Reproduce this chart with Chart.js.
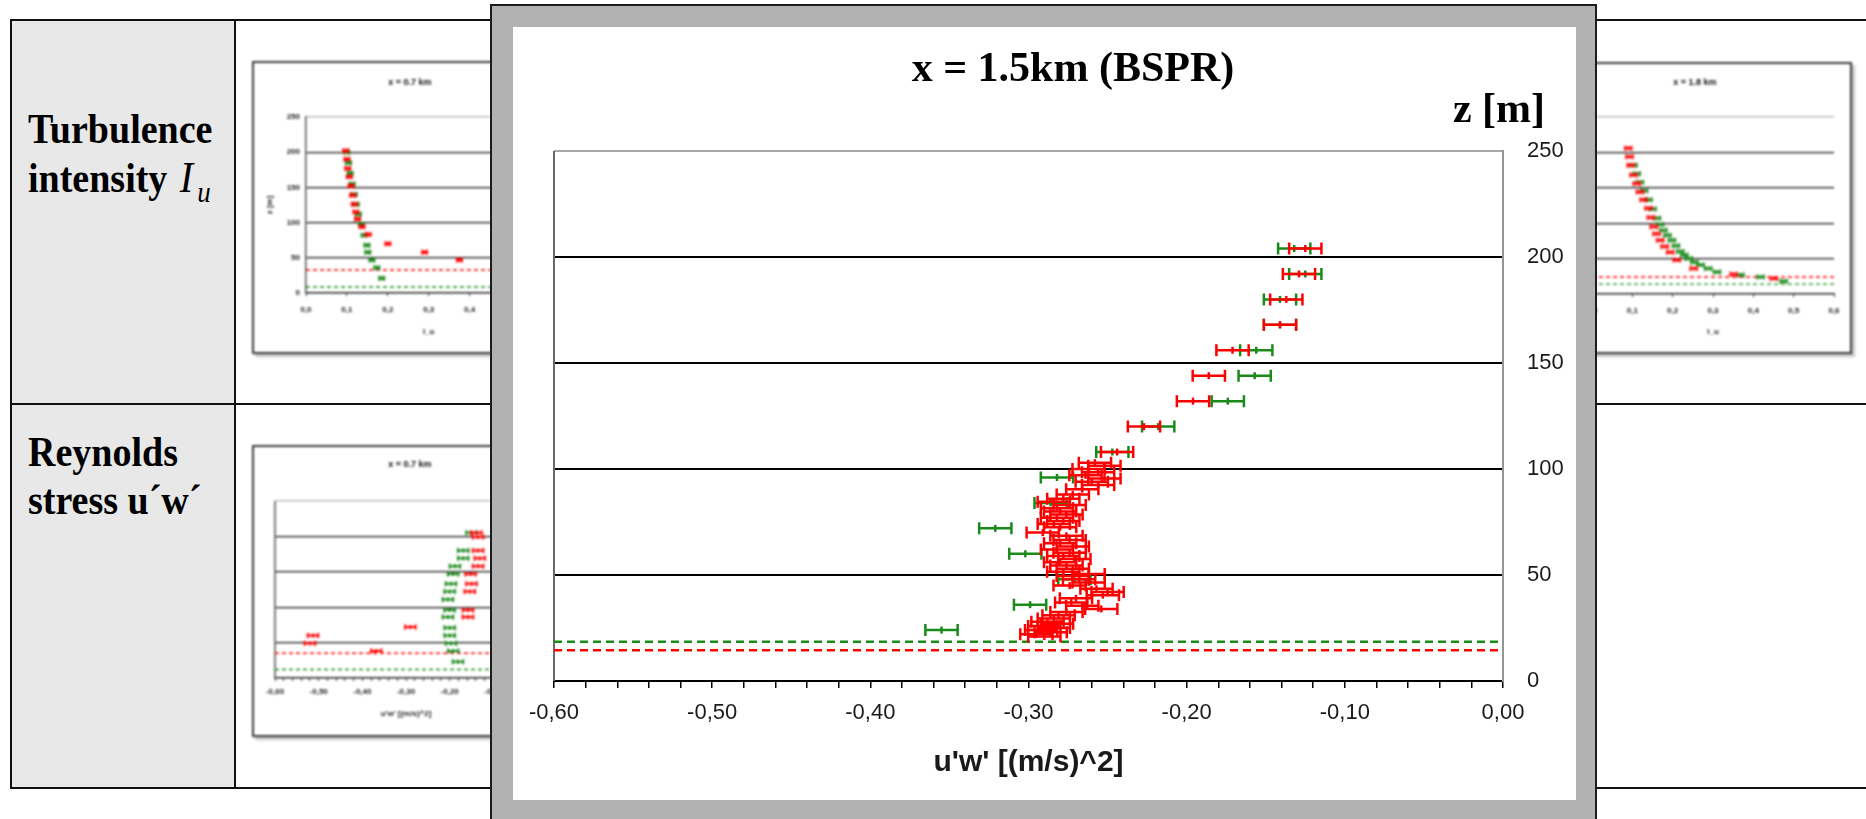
<!DOCTYPE html>
<html lang="de">
<head>
<meta charset="utf-8">
<title>Reynolds stress u'w' - x = 1.5km (BSPR)</title>
<script src="https://cdn.jsdelivr.net/npm/chart.js@4.4.1/dist/chart.umd.min.js"></script>
<style>
  body { margin: 0; width: 1866px; height: 819px; overflow: hidden; background: #fff; position: relative; }
  .grid { position: absolute; left: 10px; top: 19px; width: 1900px; height: 766px; border: 2px solid #111; }
  .labelcol { position: absolute; left: 12px; top: 21px; width: 222px; height: 766px; background: #e8e8e8; }
  .vdiv { position: absolute; left: 234px; top: 21px; width: 2px; height: 766px; background: #111; }
  .hdiv { position: absolute; left: 12px; top: 403px; width: 1866px; height: 2px; background: #111; }
  .rowlabel { position: absolute; left: 28px; font: bold 38px/43px "Liberation Serif", serif; color: #000;
              transform: scaleY(1.1); transform-origin: 0 0; white-space: nowrap; }
  .rowlabel i { font-weight: normal; font-size: 40px; margin-left: 3px; }
  .rowlabel sub { font-style: italic; font-weight: normal; font-size: 27px; vertical-align: -9px; margin-left: 4px; }
  .thumb { position: absolute; background: #fff; border: 2px solid #3c3c3c; box-shadow: 3px 3px 2px #c4c4c4; filter: blur(0.8px); }
  .thumb canvas { position: absolute; left: 0; top: 0; }
  .thumb .ttl { position: absolute; left: 0; width: 100%; text-align: center; font: bold 9px "Liberation Sans", sans-serif; color: #111; }
  .popup { position: absolute; left: 490px; top: 4px; width: 1103px; height: 900px; background: #b2b2b2; border: 2px solid #1c1c1c; z-index: 10; }
  .sheet { position: absolute; left: 21px; top: 21px; width: 1063px; height: 773px; background: #fff; }
  .sheet canvas { position: absolute; left: 0; top: 0; }
  .big { position: absolute; font: bold 42px/42px "Liberation Serif", serif; color: #000; white-space: nowrap; }
</style>
</head>
<body>

<div class="labelcol"></div>
<div class="grid"></div>
<div class="vdiv"></div>
<div class="hdiv"></div>

<div class="rowlabel" style="top:106px">Turbulence<br>intensity <i>I</i><sub>u</sub></div>
<div class="rowlabel" style="top:429px">Reynolds<br>stress u´w´</div>

<div class="thumb" style="left:252px; top:61px; width:312px; height:289px;">
  <canvas id="iu07" width="312" height="289"></canvas>
  <div class="ttl" style="top:14px">x = 0.7 km</div>
</div>
<div class="thumb" style="left:252px; top:445px; width:312px; height:288px;">
  <canvas id="uw07" width="312" height="288"></canvas>
  <div class="ttl" style="top:12px">x = 0.7 km</div>
</div>
<div class="thumb" style="left:1538px; top:62px; width:310px; height:288px;">
  <canvas id="iu18" width="310" height="288"></canvas>
  <div class="ttl" style="top:13px">x = 1.8 km</div>
</div>

<div class="popup">
  <div class="sheet">
    <canvas id="profile" width="1063" height="773"></canvas>
    <div class="big" style="left:260px; top:19px; width:600px; text-align:center;">x = 1.5km (BSPR)</div>
    <div class="big" style="left:832px; top:60px; width:200px; text-align:right;">z [m]</div>
  </div>
</div>

<script>
// ---- x = 1.5 km, u'w' profile ----
const uwMin = -0.6;
const uwMax = 0;
const uwLabels = ["-0,60", "-0,50", "-0,40", "-0,30", "-0,20", "-0,10", "0,00"];
const zLabels = ["0", "50", "100", "150", "200", "250"];

const zGreen = [204, 192, 180, 168, 156, 144, 132, 120, 108, 96, 84, 72, 60, 48, 36, 24];
const uwGreen = [-0.132, -0.125, -0.141, -0.141, -0.156, -0.157, -0.174, -0.218, -0.247, -0.282,
                 -0.286, -0.321, -0.302, -0.271, -0.299, -0.355];

const zRed = [204, 192, 180, 168, 156, 144, 132, 120, 108,
              103, 101.5, 100, 98.5, 97, 95.5, 94, 92.5, 90.5, 88, 86, 84.5, 83, 81.5, 80, 78.5,
              77, 75.5, 74, 72.5, 70, 68.5, 66.5, 65, 63.5, 62, 60.5, 59, 57.5, 56, 54.5, 53,
              51.5, 50.5, 49.5, 48, 46.5, 45, 43.5, 42, 40.5, 39, 37, 35.5, 34, 32.5, 31, 29.5,
              28, 27, 26, 25, 24, 23, 22, 21];
const uwRed = [-0.125, -0.129, -0.137, -0.141, -0.171, -0.186, -0.196, -0.227, -0.244,
               -0.258, -0.252, -0.262, -0.256, -0.264, -0.252, -0.260, -0.256, -0.266, -0.272, -0.278,
               -0.284, -0.274, -0.282, -0.280, -0.276, -0.282, -0.278, -0.284, -0.280, -0.291, -0.276,
               -0.274, -0.280, -0.272, -0.282, -0.274, -0.278, -0.271, -0.280, -0.276, -0.272, -0.278,
               -0.262, -0.272, -0.268, -0.262, -0.274, -0.257, -0.250, -0.253, -0.270, -0.273, -0.266,
               -0.254, -0.276, -0.281, -0.284, -0.288, -0.282, -0.290, -0.284, -0.292, -0.286, -0.295,
               -0.290];
const errUw = 0.0102;           // half width of every error bar
const zLevelGreen = 18.5;
const zLevelRed = 14.5;

// ---- thumbnails ----
const iuMin = 0, iuMax = 0.6;
const iuLabels = ["0,0", "0,1", "0,2", "0,3", "0,4", "0,5", "0,6"];

const zIuRed07 = [202, 190, 177, 165, 152, 139, 126, 115, 105, 94, 83, 70, 58, 47];
const iuRed07 = [0.097, 0.100, 0.102, 0.106, 0.110, 0.114, 0.118, 0.122, 0.126, 0.137, 0.152, 0.200, 0.290, 0.375];
const zIuGreen07 = [200, 185, 170, 155, 140, 126, 112, 98, 82, 68, 58, 47, 36, 21];
const iuGreen07 = [0.100, 0.104, 0.108, 0.113, 0.118, 0.123, 0.128, 0.135, 0.142, 0.149, 0.151, 0.161, 0.173, 0.185];

const zIuRed18 = [206, 194, 182, 168, 156, 144, 133, 121, 108, 95, 85, 76, 67, 59, 48, 36, 28, 22];
const iuRed18 = [0.090, 0.093, 0.096, 0.103, 0.111, 0.119, 0.128, 0.140, 0.146, 0.153, 0.160, 0.169,
                 0.180, 0.194, 0.210, 0.252, 0.351, 0.451];
const zIuGreen18 = [182, 170, 158, 146, 133, 120, 107, 98, 90, 83, 76, 68, 60, 55, 50, 45, 41, 36, 31, 27, 24, 18];
const iuGreen18 = [0.103, 0.111, 0.119, 0.129, 0.140, 0.150, 0.161, 0.169, 0.177, 0.187, 0.198, 0.208,
                   0.219, 0.229, 0.240, 0.254, 0.269, 0.288, 0.310, 0.368, 0.418, 0.475];

const zUwRed07 = [205, 199, 180, 169, 158, 147, 133, 122, 96, 86, 72, 60, 49, 38];
const uwRed07 = [-0.139, -0.135, -0.135, -0.131, -0.135, -0.152, -0.150, -0.154, -0.158, -0.158,
                 -0.290, -0.513, -0.520, -0.368];
const zUwGreen07 = [205, 180, 169, 158, 147, 133, 122, 111, 96, 86, 71, 60, 49, 38, 23];
const uwGreen07 = [-0.150, -0.169, -0.169, -0.188, -0.192, -0.197, -0.200, -0.204, -0.200, -0.204,
                   -0.200, -0.200, -0.197, -0.192, -0.181];

const RED = "#ff0000";
const GREEN = "#1a8a1a";
const SANS = '"Liberation Sans", Arial, sans-serif';

// horizontal error bars with end caps, drawn under each dataset's centre marks
const errorBars = {
  id: "errorBars",
  beforeDatasetDraw(chart, args) {
    const ds = chart.data.datasets[args.index];
    if (!ds.errorBar) return;
    const { err, cap, width } = ds.errorBar;
    const xs = chart.scales.x, ys = chart.scales.y;
    const ctx = chart.ctx;
    ctx.save();
    ctx.strokeStyle = ds.borderColor;
    ctx.lineWidth = width;
    ds.data.forEach(function (p) {
      const y = ys.getPixelForValue(p.y);
      const x0 = xs.getPixelForValue(p.x - err);
      const x1 = xs.getPixelForValue(p.x + err);
      ctx.beginPath();
      ctx.moveTo(x0, y); ctx.lineTo(x1, y);
      ctx.moveTo(x0, y - cap); ctx.lineTo(x0, y + cap);
      ctx.moveTo(x1, y - cap); ctx.lineTo(x1, y + cap);
      ctx.stroke();
    });
    ctx.restore();
  },
};

// left edge of the plot frame (no axis there)
const frameLeft = {
  id: "frameLeft",
  beforeDatasetsDraw(chart, args, opts) {
    if (!opts.color) return;
    const a = chart.chartArea, ctx = chart.ctx;
    ctx.save();
    ctx.strokeStyle = opts.color;
    ctx.lineWidth = opts.width;
    ctx.beginPath();
    ctx.moveTo(a.left, a.top);
    ctx.lineTo(a.left, a.bottom);
    ctx.stroke();
    ctx.restore();
  },
};

function points(zs, xs) {
  return zs.map(function (z, i) { return { x: xs[i], y: z }; });
}

function barSet(zs, xs, color, err, cap, width, mark) {
  return {
    data: points(zs, xs),
    borderColor: color,
    backgroundColor: color,
    pointStyle: "line",
    rotation: 90,
    pointRadius: mark,
    pointBorderWidth: width,
    pointHoverRadius: mark,
    errorBar: { err: err, cap: cap, width: width },
  };
}

function levelLine(z, lo, hi, color, width, dash) {
  return {
    type: "line",
    data: [{ x: lo, y: z }, { x: hi, y: z }],
    borderColor: color,
    borderWidth: width,
    borderDash: dash,
    pointRadius: 0,
    showLine: true,
  };
}

function gridColor(top, others) {
  return function (c) {
    if (c.tick.value === 0) return "rgba(0,0,0,0)";
    return c.tick.value === 250 ? top : others;
  };
}

// main chart
new Chart(document.getElementById("profile"), {
  type: "scatter",
  data: {
    datasets: [
      barSet(zRed, uwRed, RED, errUw, 6, 2.5, 3.5),
      barSet(zGreen, uwGreen, GREEN, errUw, 6, 2.5, 3.5),
      levelLine(zLevelRed, uwMin, uwMax, RED, 2.5, [8, 5]),
      levelLine(zLevelGreen, uwMin, uwMax, GREEN, 2.5, [8, 5]),
    ],
  },
  options: {
    responsive: false,
    animation: false,
    devicePixelRatio: 1,
    layout: { padding: { left: 41, top: 124, right: 0, bottom: 0 } },
    plugins: {
      legend: { display: false },
      tooltip: { enabled: false },
      frameLeft: { color: "#6a6a6a", width: 2 },
    },
    scales: {
      x: {
        type: "linear",
        min: uwMin,
        max: uwMax,
        afterFit(s) { s.height = 119; },
        ticks: {
          stepSize: 0.02,
          autoSkip: false,
          maxRotation: 0,
          padding: 12,
          color: "#1a1a1a",
          font: { family: SANS, size: 22 },
          callback(v, i) { return i % 5 === 0 ? uwLabels[i / 5] : ""; },
        },
        grid: { drawOnChartArea: false, drawTicks: true, tickLength: 7, color: "#000", lineWidth: 1.5 },
        border: { color: "#000", width: 2 },
        title: {
          display: true,
          text: "u'w' [(m/s)^2]",
          color: "#1a1a1a",
          font: { family: SANS, size: 30, weight: "bold" },
          padding: { top: 0, bottom: 19 },
        },
      },
      y: {
        type: "linear",
        position: "right",
        min: 0,
        max: 250,
        afterFit(s) { s.width = 73; },
        ticks: {
          stepSize: 50,
          padding: 24,
          color: "#1a1a1a",
          font: { family: SANS, size: 22 },
          callback(v, i) { return zLabels[i]; },
        },
        grid: { drawTicks: false, color: gridColor("#a8a8a8", "#000"), lineWidth: 2 },
        border: { color: "#959595", width: 2 },
      },
    },
  },
  plugins: [errorBars, frameLeft],
});

// small profile charts behind the popup
function thumbChart(id, o) {
  const small = { family: SANS, size: 8, weight: "bold" };
  return new Chart(document.getElementById(id), {
    type: "scatter",
    data: {
      datasets: [
        barSet(o.zRed, o.xRed, RED, o.err, 2.5, 2, 2),
        barSet(o.zGreen, o.xGreen, GREEN, o.err, 2.5, 2, 2),
        levelLine(o.levelRed, o.min, o.max, RED, 1.4, [4, 3]),
        levelLine(o.levelGreen, o.min, o.max, GREEN, 1.4, [4, 3]),
      ],
    },
    options: {
      responsive: false,
      animation: false,
      devicePixelRatio: 1,
      layout: { padding: o.padding },
      plugins: {
        legend: { display: false },
        tooltip: { enabled: false },
        frameLeft: { color: o.yPos === "right" ? "#555" : null, width: 1.5 },
      },
      scales: {
        x: {
          type: "linear",
          min: o.min,
          max: o.max,
          afterFit(s) { s.height = o.xHeight; },
          ticks: {
            stepSize: o.step,
            autoSkip: false,
            maxRotation: 0,
            padding: o.tickPad,
            color: "#222",
            font: small,
            callback(v, i) { return i % o.every === 0 ? o.labels[i / o.every] : ""; },
          },
          grid: { drawOnChartArea: false, tickLength: 3, color: "#333", lineWidth: 1 },
          border: { color: "#222", width: 1.5 },
          title: { display: true, text: o.xTitle, color: "#222", font: small, padding: { top: 0, bottom: o.titlePad } },
        },
        y: {
          type: "linear",
          position: o.yPos,
          min: 0,
          max: 250,
          afterFit(s) { s.width = o.yWidth; },
          ticks: {
            stepSize: 50,
            padding: 6,
            color: "#222",
            font: small,
            callback(v, i) { return zLabels[i]; },
          },
          grid: { drawTicks: false, color: gridColor("#b0b0b0", "#111"), lineWidth: 1.3 },
          border: { color: o.yPos === "right" ? "#a0a0a0" : "#555", width: 1.5 },
          title: { display: o.yPos === "left", text: "z [m]", color: "#222", font: small, padding: { top: 11 } },
        },
      },
    },
    plugins: [errorBars, frameLeft],
  });
}

thumbChart("iu07", {
  zRed: zIuRed07, xRed: iuRed07, zGreen: zIuGreen07, xGreen: iuGreen07,
  levelRed: 32.7, levelGreen: 8.5, err: 0.006,
  min: iuMin, max: iuMax, step: 0.1, every: 1, labels: iuLabels, xTitle: "I_u",
  yPos: "left", yWidth: 52, xHeight: 59, tickPad: 9, titlePad: 15,
  padding: { left: 0, right: 14, top: 54, bottom: 0 },
});

thumbChart("iu18", {
  zRed: zIuRed18, xRed: iuRed18, zGreen: zIuGreen18, xGreen: iuGreen18,
  levelRed: 24, levelGreen: 14, err: 0.008,
  min: iuMin, max: iuMax, step: 0.1, every: 1, labels: iuLabels, xTitle: "I_u",
  yPos: "left", yWidth: 52, xHeight: 58, tickPad: 9, titlePad: 15,
  padding: { left: 0, right: 16, top: 53, bottom: 0 },
});

thumbChart("uw07", {
  zRed: zUwRed07, xRed: uwRed07, zGreen: zUwGreen07, xGreen: uwGreen07,
  levelRed: 35, levelGreen: 12, err: 0.012,
  min: uwMin, max: uwMax, step: 0.02, every: 5, labels: uwLabels, xTitle: "u'w' [(m/s)^2]",
  yPos: "right", yWidth: 29, xHeight: 57, tickPad: 6, titlePad: 16,
  padding: { left: 21, right: 0, top: 54, bottom: 0 },
});
</script>
</body>
</html>
